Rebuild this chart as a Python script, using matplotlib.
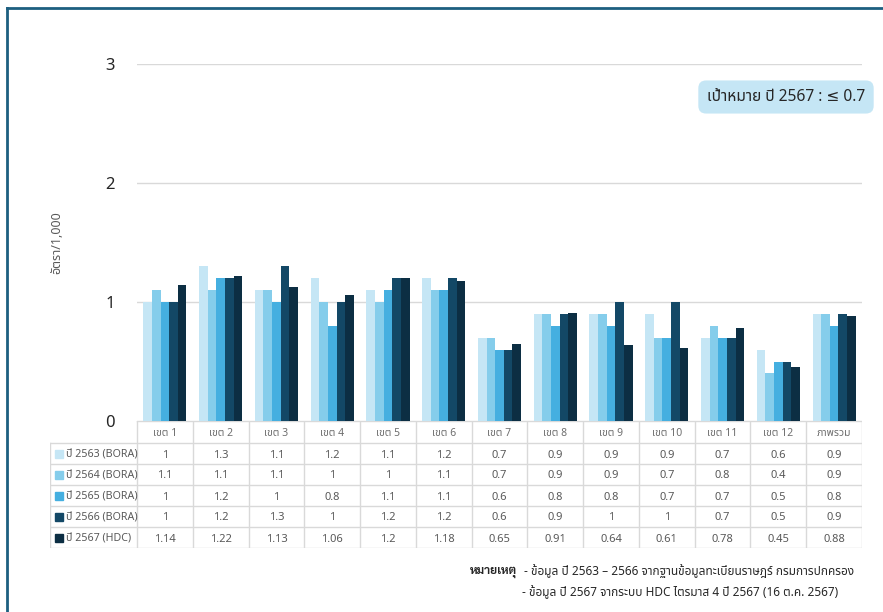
import matplotlib
matplotlib.use("Agg")
import matplotlib.pyplot as plt
import numpy as np

plt.rcParams['font.family'] = ['Noto Sans', 'Noto Sans Thai', 'DejaVu Sans']

# ข้อมูล
categories = ['เขต 1', 'เขต 2', 'เขต 3', 'เขต 4', 'เขต 5', 'เขต 6', 'เขต 7',
              'เขต 8', 'เขต 9', 'เขต 10', 'เขต 11', 'เขต 12', 'ภาพรวม']
series_names = ['ปี 2563 (BORA)', 'ปี 2564 (BORA)', 'ปี 2565 (BORA)',
                'ปี 2566 (BORA)', 'ปี 2567 (HDC)']
y2563 = [1, 1.3, 1.1, 1.2, 1.1, 1.2, 0.7, 0.9, 0.9, 0.9, 0.7, 0.6, 0.9]
y2564 = [1.1, 1.1, 1.1, 1, 1, 1.1, 0.7, 0.9, 0.9, 0.7, 0.8, 0.4, 0.9]
y2565 = [1, 1.2, 1, 0.8, 1.1, 1.1, 0.6, 0.8, 0.8, 0.7, 0.7, 0.5, 0.8]
y2566 = [1, 1.2, 1.3, 1, 1.2, 1.2, 0.6, 0.9, 1, 1, 0.7, 0.5, 0.9]
y2567 = [1.14, 1.22, 1.13, 1.06, 1.2, 1.18, 0.65, 0.91, 0.64, 0.61, 0.78, 0.45, 0.88]
yticks = [0, 1, 2, 3]

series = [y2563, y2564, y2565, y2566, y2567]
colors = ['#C5E6F5', '#85CDEB', '#45AFE0', '#134866', '#0C2E43']

W, H = 883, 612
fig = plt.figure(figsize=(W / 100, H / 100), dpi=100)

def fx(px):
    return px / W

def fy(py):
    return 1 - py / H

# ── กราฟแท่ง ──
x_left, x_right, y_top, y_base = 137, 862, 64, 421
ax = fig.add_axes([fx(x_left), fy(y_base), fx(x_right - x_left), (y_base - y_top) / H])
n = len(categories)
x = np.arange(n)
bw = 0.155
for i, (vals, c) in enumerate(zip(series, colors)):
    ax.bar(x + (i - 2) * bw, vals, bw, color=c, zorder=3, linewidth=0)
ax.set_xlim(-0.5, n - 0.5)
ax.set_ylim(0, 3)
ax.set_yticks(yticks)
ax.set_yticklabels([str(t) for t in yticks], fontsize=12, color='#262626')
ax.tick_params(axis='y', length=0, pad=16)
ax.set_xticks([])
for s in ax.spines.values():
    s.set_visible(False)
ax.grid(axis='y', color='#D9D9D9', linewidth=1, zorder=0)
ax.set_ylabel('อัตรา/1,000', fontsize=9, color='#595959', labelpad=30)

# ── ตารางข้อมูล ──
tbl_left, tbl_bottom = 50, 548
header_h = 22
row_h = 21
tax = fig.add_axes([fx(tbl_left), fy(tbl_bottom), fx(x_right - tbl_left), (tbl_bottom - y_base) / H])
tax.set_xlim(tbl_left, x_right)
tax.set_ylim(tbl_bottom, y_base)
tax.axis('off')
col_w = (x_right - x_left) / n
grid_c = '#D9D9D9'
# เส้นแนวนอน
tax.plot([x_left, x_right], [y_base, y_base], color=grid_c, lw=1)
for r in range(len(series) + 1):
    yy = y_base + header_h + r * row_h
    tax.plot([tbl_left, x_right], [yy, yy], color=grid_c, lw=1)
# เส้นแนวตั้ง
for k in range(n + 1):
    xx = x_left + k * col_w
    tax.plot([xx, xx], [y_base, tbl_bottom], color=grid_c, lw=1)
tax.plot([tbl_left, tbl_left], [y_base + header_h, tbl_bottom], color=grid_c, lw=1)

for k, cat in enumerate(categories):
    tax.text(x_left + (k + 0.5) * col_w, y_base + header_h / 2, cat,
             ha='center', va='center_baseline', fontsize=7.5, color='#6E6E6E')
for r, (name, vals, c) in enumerate(zip(series_names, series, colors)):
    yc = y_base + header_h + (r + 0.5) * row_h
    tax.add_patch(plt.Rectangle((tbl_left + 5, yc - 4), 8, 8, color=c))
    tax.text(tbl_left + 16, yc, name, ha='left', va='center_baseline', fontsize=7.7, color='#595959')
    for k, v in enumerate(vals):
        tax.text(x_left + (k + 0.5) * col_w, yc, f'{v:g}', ha='center', va='center_baseline',
                 fontsize=8, color='#595959')

# ── กล่องเป้าหมาย ──
fig.text(fx(786), fy(97), 'เป้าหมาย ปี 2567 : ≤ 0.7', ha='center', va='center',
         fontsize=11.2, color='#262626',
         bbox=dict(boxstyle='round,pad=0.55,rounding_size=0.5', fc='#C5E6F5', ec='none'))

# ── หมายเหตุ ──
fig.text(fx(470), fy(570), 'หมายเหตุ', ha='left', va='center_baseline', fontsize=8.6,
         fontweight='bold', color='#262626', family=['Sarabun', 'DejaVu Sans'])
fig.text(fx(524), fy(570), '- ข้อมูล ปี 2563 – 2566 จากฐานข้อมูลทะเบียนราษฎร์ กรมการปกครอง',
         ha='left', va='center_baseline', fontsize=8.5, color='#262626')
fig.text(fx(522), fy(591), '- ข้อมูล ปี 2567 จากระบบ HDC ไตรมาส 4 ปี 2567 (16 ต.ค. 2567)',
         ha='left', va='center_baseline', fontsize=8.5, color='#262626')

# ── กรอบ ──
border_c = '#1D5F80'
fig.add_artist(plt.Line2D([fx(7), fx(7)], [fy(8), 0], color=border_c, lw=2))
fig.add_artist(plt.Line2D([fx(7), 1], [fy(8), fy(8)], color=border_c, lw=2))

fig.savefig('out.png', dpi=100)
